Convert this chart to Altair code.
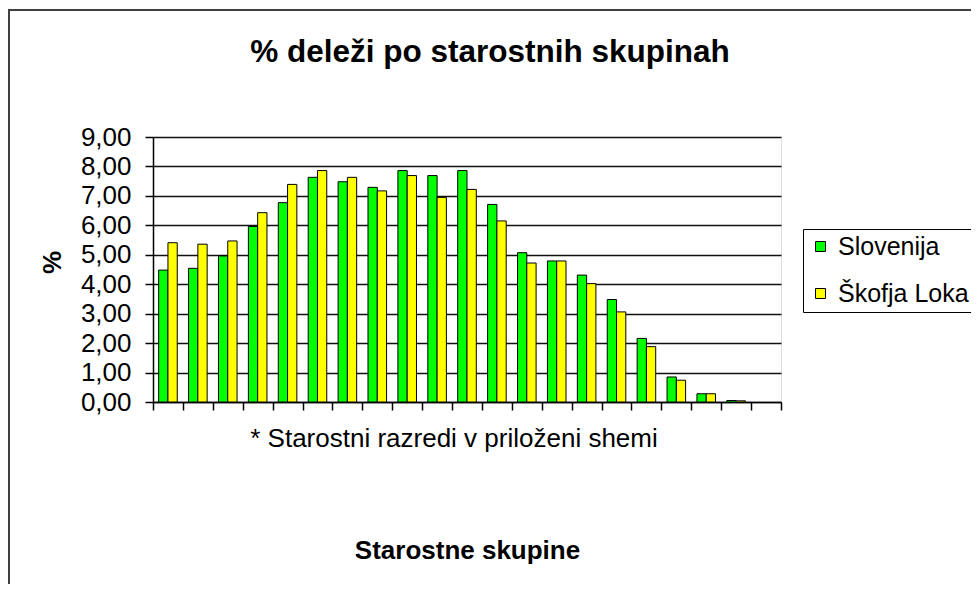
import altair as alt
import pandas as pd

categories = ["0-4", "5-9", "10-14", "15-19", "20-24", "25-29", "30-34", "35-39",
              "40-44", "45-49", "50-54", "55-59", "60-64", "65-69", "70-74", "75-79",
              "80-84", "85-89", "90-94", "95-99", "100+"]
slovenija = [4.48, 4.54, 4.96, 5.96, 6.77, 7.63, 7.48, 7.29, 7.86, 7.69, 7.86,
             6.71, 5.07, 4.79, 4.31, 3.48, 2.16, 0.85, 0.28, 0.05]
skofja_loka = [5.41, 5.36, 5.47, 6.43, 7.39, 7.86, 7.63, 7.17, 7.69, 6.95, 7.22,
               6.15, 4.72, 4.79, 4.02, 3.06, 1.88, 0.74, 0.28, 0.04]
series = ["Slovenija", "Škofja Loka"]
colors = ["#00FF00", "#FFFF00"]
y_ticks = [0, 1, 2, 3, 4, 5, 6, 7, 8, 9]

title_text = "%  deleži po starostnih skupinah"
note_text = "* Starostni razredi v priloženi shemi"
x_title = "Starostne skupine"
y_title = "%"

rows = []
for name, vals in zip(series, [slovenija, skofja_loka]):
    for cat, v in zip(categories, vals):
        rows.append({"skupina": cat, "serija": name, "delez": v})
df = pd.DataFrame(rows)

FONT = "Liberation Sans"

bars = alt.Chart(df).mark_bar(stroke="black", strokeWidth=1).encode(
    x=alt.X("skupina:N", sort=categories,
            scale=alt.Scale(domain=categories, paddingInner=0, paddingOuter=0),
            axis=alt.Axis(title=x_title, labels=False, tickBand="extent", tickSize=8,
                          tickColor="black", tickWidth=1.5, domainColor="black",
                          domainWidth=1.5, titleFont=FONT, titleFontSize=26,
                          titleFontWeight="bold", titleColor="black",
                          titleX=314, titleY=156, titleBaseline="alphabetic",
                          titleAlign="center")),
    xOffset=alt.XOffset("serija:N", sort=series,
                        scale=alt.Scale(domain=series, paddingInner=0, paddingOuter=0.61)),
    y=alt.Y("delez:Q", scale=alt.Scale(domain=[0, 9], nice=False, zero=True),
            axis=alt.Axis(title=y_title, values=y_ticks,
                          labelExpr="replace(format(datum.value, '.2f'), '.', ',')",
                          labelFont=FONT, labelFontSize=26, labelColor="black",
                          labelPadding=14, tickSize=8, tickColor="black", tickWidth=1.5,
                          domainColor="black", domainWidth=1.5,
                          grid=True, gridColor="#111111", gridWidth=1.5,
                          titleFont=FONT, titleFontSize=26, titleFontWeight="bold",
                          titleColor="black", titleX=-101, titleY=125,
                          titleAlign="center", titleBaseline="middle")),
    color=alt.Color("serija:N", sort=series,
                    scale=alt.Scale(domain=series, range=colors),
                    legend=alt.Legend(title=None, orient="none", legendX=650, legendY=92,
                                      strokeColor="black",
                                      fillColor="white", padding=5,
                                      labelFont=FONT, labelFontSize=25,
                                      labelColor="black", labelOffset=5,
                                      symbolType="square", symbolSize=100,
                                      symbolOffset=0,
                                      symbolStrokeColor="black", symbolStrokeWidth=1,
                                      symbolOpacity=1, rowPadding=21)),
)

note_df = pd.DataFrame({"t": [note_text]})
note = alt.Chart(note_df).mark_text(font=FONT, fontSize=26, color="black",
                                    align="center", baseline="alphabetic").encode(
    text="t:N", x=alt.value(301), y=alt.value(310))

border = alt.Chart(pd.DataFrame({"k": [0]})).mark_rect(
    filled=False, stroke="#404040", strokeWidth=2).encode(
    x=alt.value(-144), x2=alt.value(900), y=alt.value(-127), y2=alt.value(600))

chart = alt.layer(border, bars, note).properties(
    width=628, height=265, autosize="none",
    padding={"left": 145, "top": 129, "right": 190, "bottom": 182},
    title=alt.TitleParams(title_text, font=FONT, fontSize=31.5, fontWeight="bold",
                          color="black", anchor="middle", frame="group", dx=23,
                          offset=-59),
).configure_view(fill="#C0C0C0", stroke="#808080", strokeWidth=1.5
).configure_legend(strokeWidth=1.5
).configure(background="white")

chart.save("out.html", embed_options={"renderer": "svg", "actions": False})
